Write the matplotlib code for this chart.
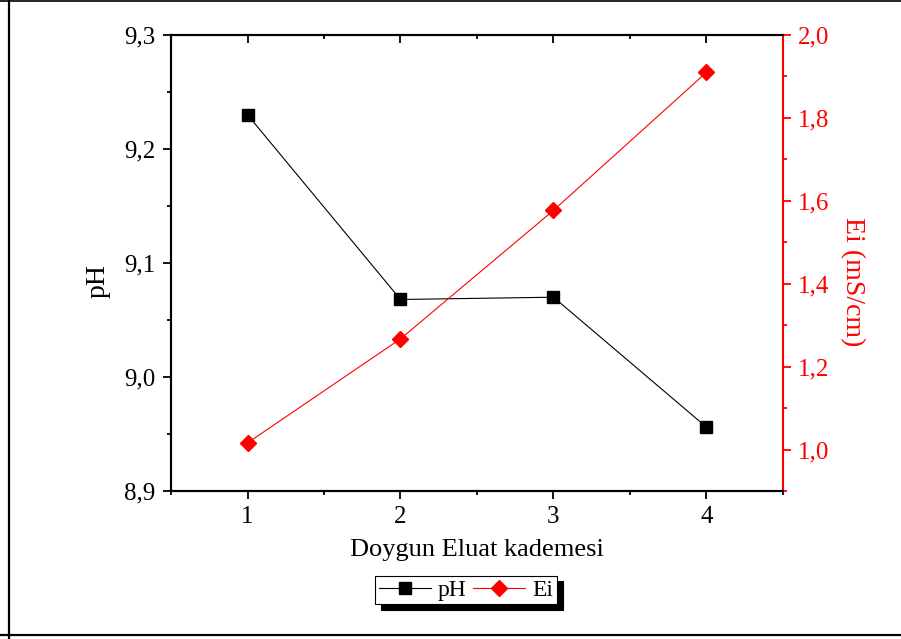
import matplotlib
matplotlib.use("Agg")
import matplotlib.pyplot as plt
from matplotlib.ticker import MultipleLocator, FuncFormatter
from matplotlib.lines import Line2D

# data
kademe = [1, 2, 3, 4]
ph = [9.230, 9.068, 9.070, 8.956]
ei = [1.016, 1.267, 1.577, 1.910]

plt.rcParams['font.family'] = ['Liberation Serif', 'DejaVu Serif']

fig = plt.figure(figsize=(9.01, 6.39), dpi=100)
ax = fig.add_axes([171 / 901, 1 - 491 / 639, (783 - 171) / 901, (491 - 35) / 639])
ax2 = ax.twinx()

comma = FuncFormatter(lambda v, p: ('%.1f' % v).replace('.', ','))

l1, = ax.plot(kademe, ph, color='black', lw=0.8, marker='s', ms=8, label='pH')
l2, = ax2.plot(kademe, ei, color='red', lw=0.8, marker='D', ms=8, label='Ei')

ax.set_xlim(0.5, 4.5)
ax.set_ylim(8.9, 9.3)
ax2.set_ylim(0.9, 2.0)

ax.xaxis.set_major_locator(MultipleLocator(1))
ax.xaxis.set_minor_locator(MultipleLocator(0.5))
ax.yaxis.set_major_locator(MultipleLocator(0.1))
ax.yaxis.set_minor_locator(MultipleLocator(0.05))
ax.yaxis.set_major_formatter(comma)
ax2.yaxis.set_major_locator(MultipleLocator(0.2))
ax2.yaxis.set_minor_locator(MultipleLocator(0.1))
ax2.yaxis.set_major_formatter(comma)

ax.tick_params(axis='both', which='major', labelsize=18, width=1.3, length=6, direction='out', pad=5)
ax.tick_params(axis='both', which='minor', width=1.3, length=3, direction='out')
ax.tick_params(axis='x', which='both', top=True)
ax2.tick_params(axis='y', which='major', labelsize=18, width=1.3, length=6,
                colors='red', direction='out', pad=5)
ax2.tick_params(axis='y', which='minor', width=1.3, length=3, colors='red', direction='out')

# top ticks point inwards
for t in ax.xaxis.get_major_ticks() + ax.xaxis.get_minor_ticks():
    t.tick2line.set_marker(matplotlib.markers.TICKDOWN)

for s in ['left', 'bottom', 'top']:
    ax.spines[s].set_linewidth(1.5)
    ax2.spines[s].set_linewidth(1.5)
ax2.spines['right'].set_color('red')
ax2.spines['right'].set_linewidth(1.5)
ax.spines['right'].set_visible(False)

ax.set_xlabel('Doygun Eluat kademesi', fontsize=19, labelpad=8)
ax.set_ylabel('pH', fontsize=20, va='center')
ax.yaxis.set_label_coords(-0.119, 0.46)
ax2.set_ylabel('Ei (mS/cm)', fontsize=20, color='red', rotation=-90, va='center')
ax2.yaxis.set_label_coords(1.113, 0.46)

leg = fig.legend(handles=[l1, l2], loc='center', bbox_to_anchor=(466 / 901, 1 - 590 / 639),
                 ncol=2, fontsize=17, frameon=True, shadow={'color': 'black', 'alpha': 1, 'ox': 4, 'oy': -4},
                 fancybox=False, handlelength=2.2, handletextpad=0.3, columnspacing=0.3,
                 borderpad=0.15, borderaxespad=0)
leg.get_frame().set_edgecolor('black')
leg.get_frame().set_linewidth(0.8)

# outer frame of the picture
fig.add_artist(Line2D([8.5 / 901, 8.5 / 901], [0, 1], color='black', lw=1.6, transform=fig.transFigure))
fig.add_artist(Line2D([0, 1], [1 - 1 / 639, 1 - 1 / 639], color='black', lw=1.2, transform=fig.transFigure))
fig.add_artist(Line2D([0, 1], [1 - 635 / 639, 1 - 635 / 639], color='black', lw=1.6, transform=fig.transFigure))

fig.savefig('out.png', dpi=100)
